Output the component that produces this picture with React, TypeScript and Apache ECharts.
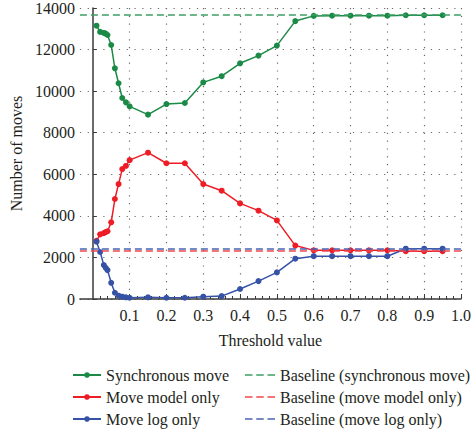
import React, { useEffect, useRef } from "react";
import * as echarts from "echarts";

// Threshold values at which each configuration was evaluated
const THRESHOLDS = [
  0.01, 0.02, 0.03, 0.035, 0.04, 0.05, 0.06, 0.07, 0.08, 0.09, 0.1, 0.15, 0.2,
  0.25, 0.3, 0.35, 0.4, 0.45, 0.5, 0.55, 0.6, 0.65, 0.7, 0.75, 0.8, 0.85, 0.9,
  0.95,
];

const SYNC_MOVES = [
  13150, 12850, 12800, 12770, 12700, 12220, 11100, 10380, 9670, 9460, 9270,
  8870, 9380, 9430, 10420, 10720, 11340, 11710, 12190, 13370, 13620, 13630,
  13630, 13630, 13630, 13650, 13650, 13650,
];

const MODEL_ONLY_MOVES = [
  2800, 3110, 3170, 3220, 3260, 3690, 4810, 5530, 6250, 6400, 6680, 7040, 6530,
  6530, 5530, 5210, 4600, 4250, 3780, 2570, 2340, 2340, 2340, 2340, 2340, 2300,
  2300, 2300,
];

const LOG_ONLY_MOVES = [
  2760, 2260, 1630, 1500, 1390, 780, 300, 160, 110, 80, 60, 80, 60, 60, 110,
  140, 480, 860, 1280, 1940, 2060, 2060, 2060, 2060, 2060, 2420, 2420, 2420,
];

// Baseline counts (no threshold)
const BASELINE_SYNC = 13660;
const BASELINE_MODEL_ONLY = 2310;
const BASELINE_LOG_ONLY = 2440;

const X_TICKS = [0.1, 0.2, 0.3, 0.4, 0.5, 0.6, 0.7, 0.8, 0.9, 1.0];
const X_MINOR_TICKS = [
  0.02, 0.04, 0.06, 0.08, 0.12, 0.14, 0.16, 0.18, 0.22, 0.24, 0.26, 0.28, 0.32,
  0.34, 0.36, 0.38, 0.42, 0.44, 0.46, 0.48, 0.52, 0.54, 0.56, 0.58, 0.62, 0.64,
  0.66, 0.68, 0.72, 0.74, 0.76, 0.78, 0.82, 0.84, 0.86, 0.88, 0.92, 0.94, 0.96,
  0.98,
];

const X_MIN = -0.035;
const X_MAX = 1.0;

const FONT = "'Liberation Serif', 'Times New Roman', serif";
const TEXT = "#231f20";
const AXIS = "#3a3a3a";

const GREEN = "#1b8a46";
const RED = "#ee1c25";
const BLUE = "#3552a6";
const GREEN_DASH = "#3d9e63";
const RED_DASH = "#f0474d";
const BLUE_DASH = "#4a66b3";

// Three short dashes, used as the legend icon of the baseline entries
const DASH_ICON = "path://M0,0h7.5v1.6h-7.5z M11.25,0h7.5v1.6h-7.5z M22.5,0h7.5v1.6h-7.5z";

const zip = (xs: number[], ys: number[]) => xs.map((x, i) => [x, ys[i]]);

function lineSeries(name: string, values: number[], color: string) {
  return {
    name,
    type: "line",
    data: zip(THRESHOLDS, values),
    symbol: "circle",
    symbolSize: 6,
    showSymbol: true,
    lineStyle: { color, width: 1.5 },
    itemStyle: { color },
  };
}

function baselineSeries(name: string, value: number, color: string) {
  return {
    name,
    type: "line",
    data: [],
    symbol: "none",
    lineStyle: { color, width: 1.6, type: [7, 4] },
    itemStyle: { color },
    markLine: {
      silent: true,
      symbol: ["none", "none"],
      label: { show: false },
      lineStyle: { color, width: 1.6, type: [7, 4] },
      data: [{ yAxis: value }],
    },
  };
}

export default function App() {
  const ref = useRef<HTMLDivElement>(null);

  useEffect(() => {
    if (!ref.current) return;
    const chart = echarts.init(ref.current, undefined, { renderer: "svg" });

    const legendText = {
      fontFamily: FONT,
      fontSize: 16,
      color: TEXT,
      lineHeight: 16,
    };

    const legendCommon = {
      orient: "vertical",
      top: 367,
      height: 62,
      padding: 0,
      itemHeight: 7,
      itemGap: 6,
      textStyle: legendText,
    };

    chart.setOption({
      animation: false,
      backgroundColor: "#ffffff",
      textStyle: { fontFamily: FONT, color: TEXT },
      grid: { left: 72, right: 10, top: 6, bottom: 130, containLabel: false },
      legend: [
        {
          ...legendCommon,
          left: 72,
          itemWidth: 28,
          data: ["Synchronous move", "Move model only", "Move log only"],
        },
        {
          ...legendCommon,
          left: 245,
          itemWidth: 30,
          data: [
            { name: "Baseline (synchronous move)", icon: DASH_ICON },
            { name: "Baseline (move model only)", icon: DASH_ICON },
            { name: "Baseline (move log only)", icon: DASH_ICON },
          ],
        },
      ],
      xAxis: [
        {
          type: "value",
          min: X_MIN,
          max: X_MAX,
          position: "bottom",
          name: "Threshold value",
          nameLocation: "middle",
          nameGap: 33,
          nameTextStyle: { fontFamily: FONT, fontSize: 16, color: TEXT },
          axisLine: { show: true, lineStyle: { color: AXIS, width: 1.5 } },
          axisTick: {
            show: true,
            inside: true,
            length: 5,
            customValues: X_TICKS,
            lineStyle: { color: AXIS },
          },
          axisLabel: {
            customValues: X_TICKS,
            formatter: (v: number) => v.toFixed(1),
            fontFamily: FONT,
            fontSize: 16,
            color: TEXT,
            margin: 8,
          },
          splitLine: {
            show: true,
            lineStyle: { color: "#6a6a6a", width: 1.2, type: [1.2, 6.6] },
          },
        },
        {
          type: "value",
          min: X_MIN,
          max: X_MAX,
          position: "bottom",
          axisLine: { show: false },
          axisTick: {
            show: true,
            inside: true,
            length: 3,
            customValues: X_MINOR_TICKS,
            lineStyle: { color: AXIS },
          },
          axisLabel: { show: false },
          splitLine: { show: false },
        },
      ],
      yAxis: {
        type: "value",
        min: 0,
        max: 14000,
        interval: 2000,
        name: "Number of moves",
        nameLocation: "middle",
        nameGap: 54,
        nameTextStyle: { fontFamily: FONT, fontSize: 16, color: TEXT },
        axisLine: { show: true, lineStyle: { color: AXIS, width: 1.5 } },
        axisTick: { show: true, inside: true, length: 4, lineStyle: { color: AXIS } },
        axisLabel: {
          formatter: (v: number) => String(v),
          fontFamily: FONT,
          fontSize: 16,
          color: TEXT,
          margin: 5,
        },
        splitLine: {
          show: true,
          lineStyle: { color: "#6a6a6a", width: 1.2, type: [1.2, 6.6] },
        },
      },
      series: [
        baselineSeries("Baseline (synchronous move)", BASELINE_SYNC, GREEN_DASH),
        baselineSeries("Baseline (move model only)", BASELINE_MODEL_ONLY, RED_DASH),
        baselineSeries("Baseline (move log only)", BASELINE_LOG_ONLY, BLUE_DASH),
        lineSeries("Synchronous move", SYNC_MOVES, GREEN),
        lineSeries("Move model only", MODEL_ONLY_MOVES, RED),
        lineSeries("Move log only", LOG_ONLY_MOVES, BLUE),
      ],
    });

    return () => chart.dispose();
  }, []);

  return (
    <div
      ref={ref}
      style={{ position: "fixed", left: 0, top: 0, width: 474, height: 429 }}
    />
  );
}
